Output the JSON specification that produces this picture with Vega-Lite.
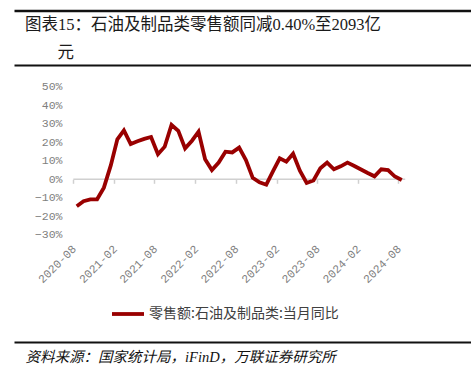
{
  "$schema": "https://vega.github.io/schema/vega-lite/v6.json",
  "width": 457,
  "height": 338,
  "autosize": "none",
  "padding": {"left": 14, "top": 4, "right": 0, "bottom": 24},
  "background": "white",
  "title": {
    "text": "图表15：石油及制品类零售额同减0.40%至2093亿",
    "anchor": "start",
    "frame": "group",
    "dx": 11,
    "offset": -29,
    "font": "Liberation Serif, Noto Sans CJK SC",
    "fontSize": 16.5,
    "fontWeight": "normal",
    "color": "#1a1a1a"
  },
  "datasets": {
    "retail": [
      {"month": "2020-08", "value": -14.5, "series": "零售额:石油及制品类:当月同比"},
      {"month": "2020-09", "value": -11.8, "series": "零售额:石油及制品类:当月同比"},
      {"month": "2020-10", "value": -10.8, "series": "零售额:石油及制品类:当月同比"},
      {"month": "2020-11", "value": -10.8, "series": "零售额:石油及制品类:当月同比"},
      {"month": "2020-12", "value": -4.5, "series": "零售额:石油及制品类:当月同比"},
      {"month": "2021-01", "value": 7.5, "series": "零售额:石油及制品类:当月同比"},
      {"month": "2021-02", "value": 21.6, "series": "零售额:石油及制品类:当月同比"},
      {"month": "2021-03", "value": 26.4, "series": "零售额:石油及制品类:当月同比"},
      {"month": "2021-04", "value": 19.0, "series": "零售额:石油及制品类:当月同比"},
      {"month": "2021-05", "value": 20.5, "series": "零售额:石油及制品类:当月同比"},
      {"month": "2021-06", "value": 21.8, "series": "零售额:石油及制品类:当月同比"},
      {"month": "2021-07", "value": 22.8, "series": "零售额:石油及制品类:当月同比"},
      {"month": "2021-08", "value": 13.5, "series": "零售额:石油及制品类:当月同比"},
      {"month": "2021-09", "value": 17.6, "series": "零售额:石油及制品类:当月同比"},
      {"month": "2021-10", "value": 29.3, "series": "零售额:石油及制品类:当月同比"},
      {"month": "2021-11", "value": 26.1, "series": "零售额:石油及制品类:当月同比"},
      {"month": "2021-12", "value": 16.7, "series": "零售额:石油及制品类:当月同比"},
      {"month": "2022-01", "value": 20.8, "series": "零售额:石油及制品类:当月同比"},
      {"month": "2022-02", "value": 25.7, "series": "零售额:石油及制品类:当月同比"},
      {"month": "2022-03", "value": 10.8, "series": "零售额:石油及制品类:当月同比"},
      {"month": "2022-04", "value": 5.0, "series": "零售额:石油及制品类:当月同比"},
      {"month": "2022-05", "value": 9.0, "series": "零售额:石油及制品类:当月同比"},
      {"month": "2022-06", "value": 14.9, "series": "零售额:石油及制品类:当月同比"},
      {"month": "2022-07", "value": 14.5, "series": "零售额:石油及制品类:当月同比"},
      {"month": "2022-08", "value": 17.1, "series": "零售额:石油及制品类:当月同比"},
      {"month": "2022-09", "value": 10.4, "series": "零售额:石油及制品类:当月同比"},
      {"month": "2022-10", "value": 0.8, "series": "零售额:石油及制品类:当月同比"},
      {"month": "2022-11", "value": -1.6, "series": "零售额:石油及制品类:当月同比"},
      {"month": "2022-12", "value": -2.9, "series": "零售额:石油及制品类:当月同比"},
      {"month": "2023-01", "value": 4.5, "series": "零售额:石油及制品类:当月同比"},
      {"month": "2023-02", "value": 11.3, "series": "零售额:石油及制品类:当月同比"},
      {"month": "2023-03", "value": 9.5, "series": "零售额:石油及制品类:当月同比"},
      {"month": "2023-04", "value": 13.8, "series": "零售额:石油及制品类:当月同比"},
      {"month": "2023-05", "value": 4.6, "series": "零售额:石油及制品类:当月同比"},
      {"month": "2023-06", "value": -2.0, "series": "零售额:石油及制品类:当月同比"},
      {"month": "2023-07", "value": -0.6, "series": "零售额:石油及制品类:当月同比"},
      {"month": "2023-08", "value": 5.9, "series": "零售额:石油及制品类:当月同比"},
      {"month": "2023-09", "value": 9.0, "series": "零售额:石油及制品类:当月同比"},
      {"month": "2023-10", "value": 5.4, "series": "零售额:石油及制品类:当月同比"},
      {"month": "2023-11", "value": 7.0, "series": "零售额:石油及制品类:当月同比"},
      {"month": "2023-12", "value": 9.0, "series": "零售额:石油及制品类:当月同比"},
      {"month": "2024-01", "value": 7.2, "series": "零售额:石油及制品类:当月同比"},
      {"month": "2024-02", "value": 5.3, "series": "零售额:石油及制品类:当月同比"},
      {"month": "2024-03", "value": 3.4, "series": "零售额:石油及制品类:当月同比"},
      {"month": "2024-04", "value": 1.6, "series": "零售额:石油及制品类:当月同比"},
      {"month": "2024-05", "value": 5.4, "series": "零售额:石油及制品类:当月同比"},
      {"month": "2024-06", "value": 5.0, "series": "零售额:石油及制品类:当月同比"},
      {"month": "2024-07", "value": 1.5, "series": "零售额:石油及制品类:当月同比"},
      {"month": "2024-08", "value": -0.4, "series": "零售额:石油及制品类:当月同比"}
    ],
    "baseline": [{"level": 0, "from": "2020-08", "to": "2024-09"}]
  },
  "layer": [
    {
      "data": {"name": "baseline"},
      "mark": {"type": "rule", "color": "#d0d0d0", "strokeWidth": 1.5},
      "encoding": {
        "x": {
          "field": "from", "type": "temporal",
          "scale": {"type": "utc", "domain": [{"year": 2019, "month": 11, "date": 8, "hours": 10, "utc": true}, {"year": 2025, "month": 6, "date": 23, "hours": 19, "utc": true}]},
          "axis": {
            "orient": "top", "offset": -6.5,
            "domain": true, "domainColor": "#111111", "domainWidth": 2.5,
            "labels": false, "ticks": false, "grid": false,
            "title": "元",
            "titleX": 43, "titleY": 42, "titleAnchor": "start", "titleAlign": "left", "titleBaseline": "middle",
            "titleFont": "Liberation Serif, Noto Sans CJK SC", "titleFontSize": 16.5, "titleFontWeight": "normal",
            "titleColor": "#1a1a1a"
          }
        },
        "x2": {"field": "to"},
        "y": {
          "field": "level", "type": "quantitative",
          "scale": {"domain": [-87.76, 94.55], "nice": false, "zero": false},
          "axis": {
            "orient": "right", "values": [-87.7, 61.65],
            "grid": true, "gridColor": "#111111", "gridWidth": 2, "gridOpacity": 1,
            "labels": false, "ticks": false, "domain": false, "title": null
          }
        }
      }
    },
    {
      "data": {"name": "retail"},
      "mark": {"type": "line", "strokeWidth": 3.8},
      "encoding": {
        "x": {
          "field": "month", "type": "temporal", "timeUnit": "utcyearmonth", "bandPosition": 0.5,
          "scale": {"type": "utc", "domain": [{"year": 2019, "month": 11, "date": 8, "hours": 10, "utc": true}, {"year": 2025, "month": 6, "date": 23, "hours": 19, "utc": true}]},
          "axis": {
            "orient": "bottom", "offset": -162.7,
            "values": [
              {"year": 2020, "month": 8, "date": 1, "utc": true},
              {"year": 2021, "month": 2, "date": 1, "utc": true},
              {"year": 2021, "month": 8, "date": 1, "utc": true},
              {"year": 2022, "month": 2, "date": 1, "utc": true},
              {"year": 2022, "month": 8, "date": 1, "utc": true},
              {"year": 2023, "month": 2, "date": 1, "utc": true},
              {"year": 2023, "month": 8, "date": 1, "utc": true},
              {"year": 2024, "month": 2, "date": 1, "utc": true},
              {"year": 2024, "month": 8, "date": 1, "utc": true}
            ],
            "format": "%Y-%m",
            "ticks": true, "tickSize": 4, "tickColor": "#d0d0d0", "tickWidth": 1.5,
            "labelAngle": -45, "labelAlign": "right", "labelBaseline": "middle",
            "labelOffset": 1, "labelPadding": 63.7, "labelOverlap": false, "labelFlush": false,
            "domain": false, "grid": false,
            "labelFont": "Liberation Mono", "labelFontSize": 11.5, "labelColor": "#808080",
            "title": "资料来源：国家统计局，iFinD，万联证券研究所",
            "titleX": 11, "titleY": 177.7, "titleAnchor": "start", "titleAlign": "left", "titleBaseline": "middle",
            "titleFont": "Liberation Serif, Noto Sans CJK SC", "titleFontSize": 14.5, "titleFontStyle": "italic",
            "titleFontWeight": "normal", "titleColor": "#111111"
          }
        },
        "y": {
          "field": "value", "type": "quantitative",
          "scale": {"domain": [-87.76, 94.55], "nice": false, "zero": false},
          "axis": {
            "orient": "left", "offset": -48,
            "values": [-30, -20, -10, 0, 10, 20, 30, 40, 50],
            "format": "d", "labelExpr": "datum.label + '%'",
            "ticks": false, "domain": false, "grid": false, "labelPadding": 0,
            "labelFont": "Liberation Mono", "labelFontSize": 11.5, "labelColor": "#808080",
            "title": null
          }
        },
        "color": {
          "field": "series", "type": "nominal",
          "scale": {"range": ["#990000"]},
          "legend": {
            "orient": "none", "legendX": 96, "legendY": 292, "title": null, "padding": 0,
            "symbolType": "stroke", "symbolSize": 1024, "symbolStrokeWidth": 3.8,
            "labelFont": "Noto Sans CJK SC", "labelFontSize": 14, "labelColor": "#404040",
            "labelOffset": 3, "labelLimit": 0
          }
        }
      }
    }
  ],
  "resolve": {"axis": {"x": "independent", "y": "independent"}},
  "config": {"view": {"stroke": null}}
}
